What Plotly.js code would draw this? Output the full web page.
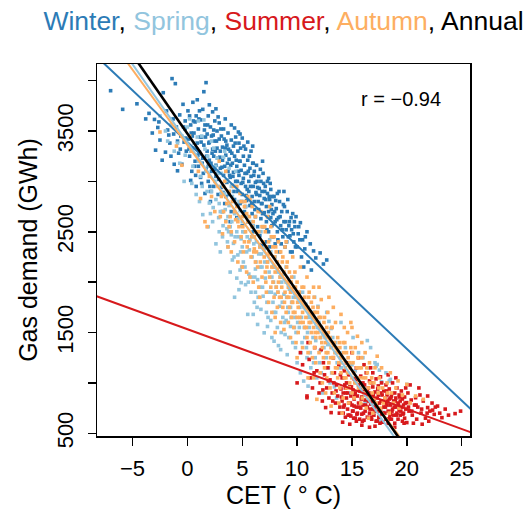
<!DOCTYPE html>
<html>
<head>
<meta charset="utf-8">
<script src="https://cdn.plot.ly/plotly-3.0.1.min.js"></script>
<style>
  html, body { margin: 0; padding: 0; background: #fff; }
  #chart { width: 531px; height: 516px; }
</style>
</head>
<body>
<div id="chart"></div>
<script>
// Daily gas demand (GWh) against Central England Temperature (deg C), by season.
// Each point: [CET, gas demand]
const winterPts = [
  [-7.0,3900],[-5.9,3715],[-4.6,3770],[-3.8,3620],[-3.5,3675],[-3.0,3615],[-2.9,3310],[-2.7,3535],[-2.5,3410],[-2.3,3210],
  [-2.2,3880],[-1.8,3510],[-1.4,4020],[-1.2,3170],[-1.1,3970],[-0.9,3105],[-0.4,3765],[-0.2,3600],[-0.6,3450],[-1.6,3380],
  [-2.0,3290],[-1.3,3620],[-0.8,3280],[-0.3,3390],[-1.0,3540],[-2.6,3590],[-1.9,3700],[-0.5,3170],[-0.1,3300],[-0.7,3660],
  [-3.2,3480],[-1.5,3250],[-0.2,3520],[-1.7,3460],[-0.9,3400],
  [0.1,3420],[0.2,3250],[0.3,3560],[0.4,3100],[0.5,3785],[0.5,3330],[0.6,3480],[0.7,3200],[0.8,3650],[0.8,2950],
  [0.9,3810],[0.9,3380],[1.0,3520],[1.0,3150],[1.1,3290],[1.2,3610],[1.2,3040],[1.3,3440],[1.4,3715],[1.4,3230],
  [1.5,3890],[1.5,3360],[1.6,3560],[1.6,2880],[1.7,3980],[1.7,3120],[1.8,3470],[1.8,3300],[1.9,3650],[1.9,3000],
  [2.0,3390],[2.0,3210],[2.1,3540],[2.1,2800],[2.2,3100],[2.2,3450],[2.3,3320],[2.3,3690],[2.4,2950],[2.4,3250],
  [2.5,3600],[2.5,3400],[2.6,3160],[2.6,3050],[2.7,3500],[2.7,3330],[2.8,2870],[2.8,3230],[2.9,3580],[2.9,3420],
  [3.0,3130],[3.0,3300],[0.3,3010],[1.1,3700],[2.0,3760],[2.6,3720],[0.7,3590],[1.3,2980],[2.4,3510],[1.9,3150],
  [0.2,3650],[2.8,3640],
  [3.1,3450],[3.1,2940],[3.2,3210],[3.2,3340],[3.3,3060],[3.3,3520],[3.4,2780],[3.4,3150],[3.5,3400],[3.5,3260],
  [3.6,2990],[3.6,3360],[3.7,3100],[3.7,3480],[3.8,2870],[3.8,3220],[3.9,3300],[3.9,3040],[4.0,3410],[4.0,2700],
  [4.1,3180],[4.1,2960],[4.2,3350],[4.2,3090],[4.3,2820],[4.3,3250],[4.4,3440],[4.4,3000],[4.5,3150],[4.5,2640],
  [4.6,3300],[4.6,2900],[4.7,3060],[4.7,3380],[4.8,2780],[4.8,3200],[4.9,2980],[4.9,3110],[5.0,3430],[5.0,2870],
  [5.1,3250],[5.1,3030],[5.2,2700],[5.2,3160],[5.3,2950],[5.3,3320],[5.4,3080],[5.4,2810],[5.5,3210],[5.5,2600],
  [5.6,3000],[5.6,2900],[5.7,3130],[5.7,2760],[5.8,3300],[5.8,3050],[5.9,2850],[5.9,2680],[6.0,3180],[6.0,2950],
  [3.5,2850],[4.0,3560],[4.6,2760],[5.0,2560],[3.2,2700],[4.3,3530],[5.5,3390],[3.9,2600],[4.8,3470],[5.3,2750],
  [6.1,2800],[6.1,3100],[6.2,2650],[6.2,2990],[6.3,3160],[6.3,2870],[6.4,2550],[6.4,2940],[6.5,3050],[6.5,2720],
  [6.6,2860],[6.6,2460],[6.7,3000],[6.7,2630],[6.8,2780],[6.8,2900],[6.9,2550],[6.9,3080],[7.0,2830],[7.0,2690],
  [7.1,2950],[7.1,2400],[7.2,2750],[7.2,2600],[7.3,2880],[7.3,3000],[7.4,2500],[7.4,2700],[7.5,2820],[7.5,2350],
  [7.6,2640],[7.6,2920],[7.7,2560],[7.7,2770],[7.8,2450],[7.8,2680],[7.9,2850],[8.0,2600],[8.0,2380],[8.1,2730],
  [8.2,2500],[8.3,2640],[8.4,2800],[8.4,2300],[8.5,2560],[8.6,2700],[8.7,2450],[8.8,2900],[8.8,2600],[8.9,2350],
  [9.0,2520],[7.4,3030],[6.8,2370],[8.2,2880],[6.0,2500],
  [9.1,2700],[9.2,2450],[9.3,2600],[9.4,2300],[9.5,2520],[9.6,2680],[9.7,2400],[9.8,2550],[10.0,2350],[10.1,2480],
  [10.3,2590],[10.4,2250],[10.5,2420],[10.7,2330],[10.9,2500],[11.0,2200],[11.2,2380],[11.5,2310],[11.7,2240],[12.1,2290],
  [12.4,2180],[12.7,2220],[9.9,2650],[10.6,2150],[11.3,2120],
  [0.45,3450],[0.65,3150],[0.85,3320],[1.05,3620],[1.25,3390],[1.45,3080],[1.65,3440],[1.85,3560],[2.05,2950],[2.25,3280],
  [2.45,3120],[2.65,3400],[2.85,3020],[3.05,3520],[3.25,2890],[3.45,3330],[3.65,3180],[3.85,3060],[4.05,3280],[4.25,2900],
  [4.45,3210],[4.65,3100],[4.85,3330],[5.05,2990],[5.25,3080],[5.45,2920],[5.65,3250],[5.85,2780],[6.05,3060],[6.25,2890],
  [6.45,2800],[6.65,3120],[6.85,2680],[7.05,2900],[7.25,2520],[7.45,2850],[7.65,2720],[7.85,2580],[8.05,2810],[8.25,2420],
  [8.45,2650],[8.65,2520],[8.85,2750],[9.05,2400],[9.25,2560],[9.45,2640],[9.65,2480],[9.85,2350],[10.25,2420],[10.75,2450],
  [0.15,3320],[0.35,3480],[0.55,3600],[0.75,3060],[0.95,3260],[1.15,3440],[1.35,3180],[1.55,3510],[1.75,3250],[1.95,3380],
  [2.15,3180],[2.35,3460],[2.55,3300],[2.75,3080],[2.95,3240],[3.15,3140],[3.35,3420],[3.55,3000],[3.75,3320],[3.95,3160],
  [4.15,3050],[4.35,3380],[4.55,3000],[4.75,3200],[4.95,2800],[5.15,3350],[5.35,2860],[5.55,3100],[5.75,2950],[5.95,3180],
  [6.15,2720],[6.35,3000],[6.55,2930],[6.75,2780],[6.95,2980],[7.15,2820],[7.35,2650],[7.55,2980],[7.75,2850],[7.95,2700],
  [8.15,2620],[8.35,2900],[8.55,2380],[8.75,2770],[8.95,2600],[9.15,2820],[9.35,2460],[9.55,2300],[9.75,2600],[10.15,2550],
  [-0.35,3540],[-0.65,3320],[-1.25,3470],[-0.15,3430],[0.05,3700],[3.45,3620],[2.15,2900],[4.65,3490],[5.95,3350],[6.85,3200]
];

const springPts = [
  [-2.5,3650],[-2.0,3500],[-1.5,3560],[-0.9,3380],[-0.5,3450],[-0.2,3260],[0.0,3540],[0.3,3300],[0.5,3150],[0.8,2870],
  [0.9,3440],[1.0,3200],[-1.2,3300],[0.2,3620],[0.6,3380],[-0.7,3180],[1.0,3600],[-1.8,3400],[0.4,2980],[-0.3,3000],
  [1.2,3050],[1.4,2670],[1.5,3610],[1.6,3320],[1.8,2900],[2.0,2785],[2.0,3150],[2.2,3400],[2.3,2600],[2.5,3000],
  [2.6,2820],[2.7,3230],[2.9,2500],[3.0,2700],[3.1,3080],[3.2,2450],[3.3,3240],[3.4,2880],[3.5,2610],[3.6,3010],
  [3.7,2350],[3.8,2760],[3.9,2550],[4.0,2950],[4.1,2220],[4.2,2385],[4.3,2680],[4.4,3100],[4.5,2500],[4.6,2270],
  [4.7,1925],[4.7,2800],[4.8,2120],[4.9,1995],[5.0,2600],[5.0,2350],[1.3,3450],[2.4,3330],[2.8,3080],[3.6,2530],
  [4.1,2850],[4.5,2040],[1.9,2550],[3.0,2300],[3.9,2100],[4.9,2430],[2.2,2900],[3.4,3300],[4.3,1850],[1.7,3100],
  [2.6,2380],[3.8,3130],[4.6,2630],[1.1,2800],[3.2,2960],[4.0,2470],[2.9,2780],[4.8,2710],[3.7,2650],[2.1,2680],
  [5.1,2200],[5.2,2500],[5.3,1975],[5.4,2300],[5.5,1680],[5.5,2650],[5.6,2080],[5.7,2420],[5.8,1900],[5.9,2250],
  [6.0,2560],[6.1,1800],[6.2,2130],[6.3,2400],[6.4,1580],[6.4,2025],[6.5,2280],[6.6,1950],[6.7,1730],[6.7,2500],
  [6.8,2150],[6.9,1860],[7.0,1497],[7.0,2330],[7.1,2040],[7.2,1700],[7.3,2200],[7.4,1900],[7.5,2420],[7.6,1620],
  [7.7,2050],[7.8,1800],[7.9,1414],[7.9,1700],[8.0,2250],[8.1,1950],[8.2,1550],[8.3,2100],[8.4,1760],[8.5,1330],
  [8.6,2000],[8.7,1650],[8.8,1880],[8.9,1480],[9.0,2150],[9.1,1280],[9.2,1700],[9.3,1930],[9.4,1560],[9.5,1800],
  [9.6,1400],[9.7,2050],[9.8,1650],[9.9,1500],[10.0,1200],[10.0,1850],[5.3,2750],[6.0,1680],[6.9,2400],[7.6,2300],
  [8.3,1370],[9.0,1620],[5.8,2600],[6.6,2350],[7.3,1560],[8.0,1880],[8.8,2080],[9.4,1750],[6.2,1900],[7.7,1450],
  [10.3,1100],[10.4,1650],[10.6,1018],[10.7,1450],[10.8,1780],[11.0,968],[11.1,1550],[11.2,1300],[11.4,1680],[11.5,1200],
  [11.7,1420],[11.8,1050],[12.0,1600],[12.1,1320],[12.3,900],[12.4,1480],[12.6,1150],[12.7,1700],[12.8,1380],[13.0,1000],
  [13.1,1540],[13.3,1250],[13.5,1400],[13.6,850],[13.8,1150],[14.0,1600],[10.2,1550],[10.9,1250],[11.6,1850],[12.2,1100],
  [12.9,1610],[13.4,960],[13.9,1300],[10.5,1900],[11.9,1760],
  [14.2,1050],[14.4,1350],[14.7,1200],[14.9,900],[15.1,1450],[15.3,1120],[15.6,1300],[15.8,950],[16.0,1250],[16.2,800],
  [16.5,1150],[16.7,1350],[16.9,1000],[17.1,1200],[17.3,1183],[17.5,880],[17.7,1010],[17.9,707],[18.1,1100],[18.3,800],
  [18.5,1035],[16.4,1420],[15.0,1180],[17.0,780],[18.7,900],[17.2,1166],[17.5,1127],[18.4,1018],[20.0,985],[17.6,630],
  [1.35,2950],[1.85,3250],[2.35,2740],[2.85,2640],[3.05,2880],[3.25,2560],[3.45,2720],[3.65,2400],[3.85,2900],[4.05,2600],
  [4.25,2250],[4.45,2780],[4.65,2450],[4.85,2300],[5.05,2500],[5.25,2150],[5.45,2450],[5.65,2320],[5.85,2050],[6.05,2380],
  [6.25,2200],[6.45,1850],[6.65,2150],[6.85,1950],[7.05,2200],[7.25,1800],[7.45,2100],[7.65,1900],[7.85,2000],[8.05,1700],
  [8.25,1900],[8.45,2050],[8.65,1800],[8.85,1600],[9.05,1850],[9.25,1450],[9.45,1650],[9.65,1850],[9.85,1350],[10.05,1600],
  [10.25,1750],[10.45,1400],[10.65,1550],[10.85,1350],[11.05,1650],[11.25,1150],[11.45,1450],[11.65,1250],[11.85,1550],[12.05,1200],
  [12.45,1350],[12.85,1150],[13.25,1450],[13.65,1200],[14.05,1150],[14.55,1000],
  [2.55,3150],[3.15,2700],[3.75,2500],[4.35,2450],[4.95,2150],[5.55,2000],[6.15,2050],[6.75,2280],[7.35,1650],[7.95,2150],
  [8.55,1500],[9.15,1750],[9.75,1550],[10.35,1300],[10.95,1500],[11.55,1700],[12.15,1450],[12.65,1250],[13.15,1100],[6.35,1750]
];

const summerPts = [
  [10.0,1000],[10.3,1300],[10.5,1180],[10.9,853],[10.9,870],[11.1,1233],[11.2,1050],[11.4,950],[11.6,1350],[11.8,1120],
  [12.0,900],[12.1,1000],[12.3,820],[12.4,1200],[12.5,1080],[12.6,755],[12.7,950],[12.8,1150],[12.9,850],[13.0,1030],
  [13.1,705],[13.2,900],[13.3,1250],[13.4,1100],[13.5,800],[13.6,980],[13.7,870],[13.8,1180],[13.9,760],[14.0,940],
  [11.0,1400],[12.2,1330],
  [14.1,820],[14.1,1050],[14.2,700],[14.2,900],[14.3,1120],[14.3,780],[14.4,950],[14.4,660],[14.5,850],[14.5,1000],
  [14.6,740],[14.6,900],[14.7,1080],[14.7,800],[14.8,680],[14.8,960],[14.9,671],[14.9,870],[15.0,1300],[15.0,780],
  [15.1,930],[15.1,720],[15.2,1040],[15.2,840],[15.3,650],[15.3,900],[15.4,760],[15.4,1150],[15.5,870],[15.5,700],
  [15.6,980],[15.6,800],[15.7,640],[15.7,920],[15.8,1067],[15.8,750],[15.9,860],[15.9,690],[16.0,1000],[16.0,780],
  [16.1,920],[16.1,630],[16.2,830],[16.2,720],[16.3,1100],[16.3,880],[16.4,760],[16.4,660],[16.5,950],[16.5,820],
  [16.6,700],[16.6,1020],[16.7,1150],[16.7,790],[16.8,880],[16.8,640],[16.9,740],[16.9,960],[17.0,830],[17.0,680],
  [17.1,910],[17.1,760],[17.2,1040],[17.2,620],[17.3,622],[17.3,850],[17.4,720],[17.4,970],[17.5,800],[17.5,660],
  [17.6,900],[17.6,740],[17.7,1000],[17.7,690],[17.8,820],[17.8,610],[17.9,760],[17.9,920],[18.0,850],[18.0,700],
  [18.1,640],[18.1,980],[18.2,780],[18.2,880],[18.3,720],[18.3,600],[18.4,840],[18.4,940],[18.5,690],[18.5,780],
  [18.6,870],[18.6,640],[18.7,740],[18.7,1000],[18.8,820],[18.8,680],[18.9,900],[18.9,600],[19.0,760],[19.0,850],
  [19.1,700],[19.1,950],[19.2,800],[19.2,640],[19.3,880],[19.3,730],[19.4,680],[19.4,820],[19.5,760],[19.5,920],
  [19.6,620],[19.6,840],[19.7,700],[19.7,780],[19.8,860],[19.8,650],[19.9,740],[19.9,950],[20.0,606],[20.0,804],
  [14.5,1200],[15.6,1250],[16.1,1180],[16.9,1100],[17.6,1060],[18.3,1080],[19.0,1050],[14.8,590],[15.9,580],[16.6,560],
  [17.1,570],[18.9,560],[15.4,620],[16.8,1000],[17.4,880],[18.1,800],[15.2,770],[16.4,920],
  [20.1,900],[20.2,720],[20.4,830],[20.5,680],[20.7,780],[20.8,853],[20.9,640],[21.0,760],[21.2,880],[21.3,700],
  [21.5,820],[21.7,650],[21.9,870],[21.9,755],[22.1,720],[22.3,800],[22.5,688],[22.6,760],[22.8,770],[23.0,700],
  [23.2,655],[23.5,740],[23.8,680],[24.4,695],[24.9,720],[20.3,980],[21.1,950],[22.0,620],[20.6,600],[21.4,590],
  [13.25,820],[13.55,920],[13.85,700],[14.05,860],[14.25,760],[14.45,900],[14.65,680],[14.85,800],[15.05,720],[15.25,880],
  [15.45,690],[15.65,760],[15.85,840],[16.05,700],[16.25,780],[16.45,860],[16.65,740],[16.85,820],[17.05,720],[17.25,780],
  [17.45,660],[17.65,820],[17.85,700],[18.05,760],[18.25,820],[18.45,660],[18.65,720],[18.85,760],[19.05,680],[19.25,780],
  [19.45,720],[19.65,690],[19.85,800],[20.15,760],[20.45,720],[20.85,780],[21.35,740],[21.85,700],[22.35,730],
  [13.35,1000],[13.95,1080],[14.35,980],[14.95,960],[15.35,1020],[15.75,930],[16.15,980],[16.55,900],[16.95,880],[17.35,940],
  [17.75,880],[18.15,920],[18.55,850],[18.95,820],[19.35,860],[15.15,650],[15.95,620],[16.75,660],[17.55,600],[18.35,640],
  [12.35,930],[12.85,1020],[11.55,1100],[14.15,610],[19.75,600]
];

const autumnPts = [
  [-2.5,3490],[-0.5,3160],[1.2,2830],[1.6,2600],[0.4,3300],[2.0,3050],[2.5,2700],[2.8,2950],[-1.0,3350],[1.0,3100],
  [2.2,2850],[0.2,3450],[2.9,3200],[1.8,2550],[3.0,2650],
  [3.1,2850],[3.2,2480],[3.3,2700],[3.4,3000],[3.5,2600],[3.6,2780],[3.7,2350],[3.8,2900],[3.9,2650],[4.0,2500],
  [4.1,2800],[4.2,2950],[4.3,2400],[4.4,2620],[4.5,2750],[4.6,2200],[4.7,2550],[4.8,2880],[4.9,2450],[5.0,2650],
  [5.1,2300],[5.2,2750],[5.3,2500],[5.4,2100],[5.5,2600],[5.6,2400],[5.7,2820],[5.8,2250],[5.9,2550],[6.0,2000],
  [6.1,2450],[6.2,2650],[6.3,2300],[6.4,2150],[6.5,2500],[6.6,2350],[6.7,2700],[6.8,2050],[6.9,2400],[7.0,2250],
  [3.5,3100],[4.0,2300],[4.5,2950],[5.0,2150],[5.5,2850],[6.0,2600],[6.5,1950],[3.8,2550],[4.3,2700],[4.9,2800],
  [5.2,2400],[5.7,2050],[6.2,2200],[6.8,2550],[3.3,2950],[4.6,2600],[5.9,2750],[6.6,1850],[6.1,2330],[5.4,2680],
  [7.1,2100],[7.1,2500],[7.2,1900],[7.2,2350],[7.3,2200],[7.3,2650],[7.4,1800],[7.4,2400],[7.5,2050],[7.5,2280],
  [7.6,1950],[7.6,2550],[7.7,2150],[7.7,1700],[7.8,2350],[7.8,2000],[7.9,1850],[7.9,2450],[8.0,2100],[8.0,1650],
  [8.1,2300],[8.1,1950],[8.2,2200],[8.2,1750],[8.3,2400],[8.3,2000],[8.4,1850],[8.4,2150],[8.5,1600],[8.5,2300],
  [8.6,1950],[8.6,2050],[8.7,1750],[8.7,2250],[8.8,1530],[8.8,2100],[8.9,1900],[8.9,2350],[9.0,1700],[9.0,2000],
  [9.1,1850],[9.1,2200],[9.2,1600],[9.2,1950],[9.3,2100],[9.3,1750],[9.4,1450],[9.4,1900],[9.5,2050],[9.5,1650],
  [9.6,1800],[9.6,2250],[9.7,1550],[9.7,1950],[9.8,1700],[9.8,2100],[9.9,1850],[9.9,1400],[10.0,1650],[10.0,2000],
  [10.1,1750],[10.1,1500],[10.2,1900],[10.3,1600],[10.3,2150],[10.4,1800],[10.5,1350],[10.5,1700],[10.6,1950],[10.7,1550],
  [10.7,1850],[10.8,1650],[10.9,1450],[10.9,2050],[11.0,1750],[11.0,1300],[7.5,2750],[8.0,1500],[9.0,2400],[10.0,1250],
  [11.1,1600],[11.1,1900],[11.2,1400],[11.2,1700],[11.3,1500],[11.3,1800],[11.4,1250],[11.4,1650],[11.5,1550],[11.5,1950],
  [11.6,1350],[11.6,1700],[11.7,1450],[11.7,1200],[11.8,1600],[11.8,837],[11.9,1500],[11.9,1750],[12.0,1300],[12.0,1650],
  [12.1,1100],[12.1,1450],[12.2,1550],[12.2,1827],[12.3,1350],[12.3,1000],[12.4,1500],[12.4,1250],[12.5,1650],[12.5,1150],
  [12.6,1400],[12.7,1050],[12.7,1550],[12.8,1300],[12.8,1700],[12.9,1200],[13.0,1450],[13.0,950],[13.1,770],[13.1,1350],
  [13.2,1550],[13.2,1100],[13.3,1250],[13.4,1400],[13.4,900],[13.5,1150],[13.5,1600],[13.6,1300],[13.7,1050],[13.7,1450],
  [13.8,1200],[13.9,950],[13.9,1350],[14.0,1680],[14.0,1100],[14.1,1250],[14.2,850],[14.2,1400],[14.3,1050],[14.4,1150],
  [14.5,1300],[14.5,950],[14.6,1500],[14.6,1100],[14.7,800],[14.8,1200],[14.8,1000],[14.9,1600],[14.9,1350],[15.0,1050],
  [15.0,900],[11.5,1050],[12.0,1950],[12.6,900],[13.3,1750],[13.8,800],[14.3,1550],[11.0,1050],[12.9,1850],[14.1,700],
  [15.1,1200],[15.2,850],[15.3,1350],[15.4,1000],[15.5,1463],[15.6,950],[15.7,1150],[15.8,800],[15.9,1250],[16.0,1050],
  [16.1,900],[16.2,1300],[16.3,750],[16.4,1100],[16.5,950],[16.6,1200],[16.7,850],[16.8,1050],[16.9,700],[17.0,1000],
  [17.1,1150],[17.2,800],[17.3,1265],[17.4,900],[17.5,1050],[17.6,750],[17.8,950],[18.0,850],[18.2,1000],[18.4,700],
  [18.6,900],[18.8,800],[19.0,950],[19.3,750],[19.6,880],[20.0,985],[20.3,800],[20.8,870],[21.5,837],[15.0,1550],
  [15.9,1400],[16.5,650],[17.7,1150],[18.5,1100],[19.2,1020],
  [5.05,2550],[5.25,2800],[5.45,2350],[5.65,2650],[5.85,2450],[6.05,2300],[6.25,2500],[6.45,2700],[6.65,2200],[6.85,2400],
  [7.05,2550],[7.25,2150],[7.45,2300],[7.65,2450],[7.85,2150],[8.05,2350],[8.25,1900],[8.45,2050],[8.65,2200],[8.85,1800],
  [9.05,2150],[9.25,1850],[9.45,2000],[9.65,1700],[9.85,1950],[10.05,1800],[10.25,1650],[10.45,1950],[10.65,1750],[10.85,1550],
  [11.05,1850],[11.25,1600],[11.45,1750],[11.65,1500],[11.85,1700],[12.05,1550],[12.25,1400],[12.45,1600],[12.65,1300],[12.85,1500],
  [13.05,1250],[13.25,1400],[13.45,1300],[13.65,1150],[13.85,1400],[14.05,1200],[14.25,1300],[14.45,1050],[14.65,1250],[14.85,1150],
  [15.05,1300],[15.25,1000],[15.45,1150],[15.65,1050],[15.85,1150],[16.05,950],[16.25,1050],[16.45,850],[16.65,1000],[16.85,900],
  [17.05,850],[17.45,950],[17.85,800],[18.25,900],
  [7.15,2000],[7.95,2250],[8.55,1850],[9.15,2000],[9.55,1800],[10.15,1900],[10.55,1600],[11.15,1700],[11.55,1850],[12.15,1650],
  [12.55,1450],[13.15,1550],[13.55,1350],[13.95,1250],[14.35,1400],[14.75,950],[15.15,1100],[15.55,1250],[15.95,850],[16.35,1150]
];

// Least-squares fit lines: demand = intercept + slope * CET
const fitNames      = ['Winter', 'Spring', 'Summer', 'Autumn', 'Annual'];
const fitIntercepts = [3390, 3387, 1533, 3360, 3474];
const fitSlopes     = [-102.6, -155.0, -39.6, -149.6, -156.6];

const seasonNames = ['Winter', 'Spring', 'Summer', 'Autumn'];
const seasonPts = [winterPts, springPts, summerPts, autumnPts];
const colours = {
  Winter: '#2c7bb6',
  Spring: '#92c5de',
  Summer: '#d7191c',
  Autumn: '#fdae61',
  Annual: '#000000'
};

const correlationLabel = 'r = \u22120.94';

const xTicks = [-5, 0, 5, 10, 15, 20, 25];
const yTicks = [500, 1000, 1500, 2000, 2500, 3000, 3500, 4000];
const yTickText = ['500', '', '1500', '', '2500', '', '3500', ''];

const FONT = 'Liberation Sans, Arial, Helvetica, sans-serif';

const traces = [];
seasonNames.forEach((name, i) => {
  const pts = seasonPts[i];
  traces.push({
    type: 'scatter',
    mode: 'markers',
    name: name,
    x: pts.map(p => p[0]),
    y: pts.map(p => p[1]),
    marker: { symbol: 'square', size: 3.6, color: colours[name], line: { width: 0 } },
    hoverinfo: 'x+y+name'
  });
});

const lineX = [-9, 27];
fitNames.forEach((name, i) => {
  traces.push({
    type: 'scatter',
    mode: 'lines',
    name: name + ' fit',
    x: lineX,
    y: lineX.map(t => fitIntercepts[i] + fitSlopes[i] * t),
    line: { color: colours[name], width: name === 'Annual' ? 2.6 : 2 },
    hoverinfo: 'skip'
  });
});

const titleHtml =
  '<span style="color:' + colours.Winter + '">Winter</span>, ' +
  '<span style="color:' + colours.Spring + '">Spring</span>, ' +
  '<span style="color:' + colours.Summer + '">Summer</span>, ' +
  '<span style="color:' + colours.Autumn + '">Autumn</span>, ' +
  '<span style="color:' + colours.Annual + '">Annual</span>';

const layout = {
  width: 531,
  height: 516,
  margin: { l: 97, r: 61, t: 64, b: 80, pad: 0 },
  paper_bgcolor: '#ffffff',
  plot_bgcolor: '#ffffff',
  showlegend: false,
  font: { family: FONT, color: '#000000', size: 22 },
  title: {
    text: titleHtml,
    font: { family: FONT, size: 26.5, color: '#000000' },
    xref: 'paper', x: 0.5, xanchor: 'center',
    yref: 'container', y: 1 - 21 / 516, yanchor: 'middle'
  },
  xaxis: {
    range: [-8.24, 25.76],
    tickmode: 'array',
    tickvals: xTicks,
    ticktext: xTicks.map(v => v < 0 ? '\u2212' + Math.abs(v) : String(v)),
    ticks: 'outside', ticklen: 8, tickwidth: 1.5, tickcolor: '#000',
    tickfont: { family: FONT, size: 22, color: '#000' },
    ticklabelstandoff: 4,
    showline: true, mirror: true, linecolor: '#000', linewidth: 1.5,
    showgrid: false, zeroline: false,
    title: { text: 'CET ( \u00b0 C)', font: { family: FONT, size: 25, color: '#000' }, standoff: 6 }
  },
  yaxis: {
    range: [473, 4165],
    tickmode: 'array',
    tickvals: yTicks,
    ticktext: yTickText,
    tickangle: -90,
    ticks: 'outside', ticklen: 8, tickwidth: 1.5, tickcolor: '#000',
    tickfont: { family: FONT, size: 22, color: '#000' },
    ticklabelstandoff: 6,
    showline: true, mirror: true, linecolor: '#000', linewidth: 1.5,
    showgrid: false, zeroline: false,
    title: { text: 'Gas demand (GWh)', font: { family: FONT, size: 25, color: '#000' }, standoff: 8 }
  },
  annotations: [{
    text: correlationLabel,
    xref: 'paper', yref: 'paper',
    x: (401 - 97) / 373, y: (436 - 99) / 372,
    xanchor: 'center', yanchor: 'middle',
    showarrow: false,
    font: { family: FONT, size: 20, color: '#000' }
  }]
};

Plotly.newPlot('chart', traces, layout, { displayModeBar: false, staticPlot: true });
</script>
</body>
</html>
